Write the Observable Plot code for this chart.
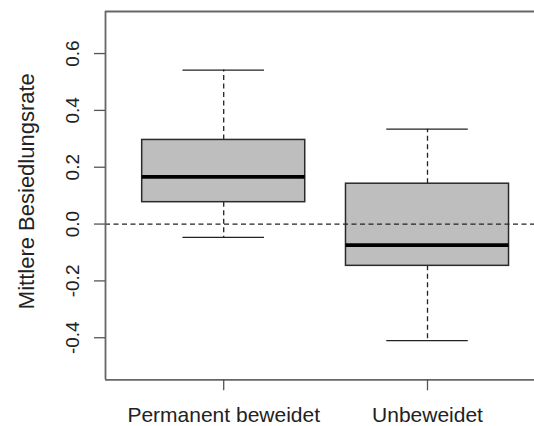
<!DOCTYPE html>
<html>
<head>
<meta charset="utf-8">
<script src="https://cdn.jsdelivr.net/npm/d3@7"></script>
<script src="https://cdn.jsdelivr.net/npm/@observablehq/plot@0.6"></script>
<style>
  html, body { margin: 0; padding: 0; background: #fff; overflow: hidden; }
  #chart svg { display: block; }
</style>
</head>
<body>
<div id="chart"></div>
<script>
const categories = ["Permanent beweidet", "Unbeweidet"];
const whiskerLow  = [-0.047, -0.410];
const q1          = [0.077, -0.147];
const median      = [0.166, -0.074];
const q3          = [0.296, 0.142];
const whiskerHigh = [0.542, 0.334];
const yTicks = [-0.4, -0.2, 0.0, 0.2, 0.4, 0.6];
const yLabel = "Mittlere Besiedlungsrate";

const boxes = categories.map((c, i) => ({
  pos: i + 1, cat: c,
  lo: whiskerLow[i], q1: q1[i], med: median[i], q3: q3[i], hi: whiskerHigh[i]
}));

const halfBox = 0.4, halfCap = 0.2;
const xDomain = [0.42, 2.525];
const yDomain = [-0.548, 0.748];
const dash = "5,3.5";
const font = "'Liberation Sans', Arial, Helvetica, sans-serif";

const chart = Plot.plot({
  width: 534,
  height: 426,
  marginLeft: 105,
  marginRight: 0,
  marginTop: 11,
  marginBottom: 46.7,
  style: { fontFamily: font, color: "#222", background: "#fff" },
  x: { type: "linear", domain: xDomain },
  y: { type: "linear", domain: yDomain },
  marks: [
    // whiskers
    Plot.ruleX(boxes, { x: "pos", y1: "q3", y2: "hi", stroke: "#222", strokeWidth: 1.3, strokeDasharray: dash }),
    Plot.ruleX(boxes, { x: "pos", y1: "q1", y2: "lo", stroke: "#222", strokeWidth: 1.3, strokeDasharray: dash }),
    // caps
    Plot.ruleY(boxes, { y: "hi", x1: d => d.pos - halfCap, x2: d => d.pos + halfCap, stroke: "#222", strokeWidth: 1.3 }),
    Plot.ruleY(boxes, { y: "lo", x1: d => d.pos - halfCap, x2: d => d.pos + halfCap, stroke: "#222", strokeWidth: 1.3 }),
    // boxes
    Plot.rect(boxes, { x1: d => d.pos - halfBox, x2: d => d.pos + halfBox, y1: "q1", y2: "q3",
      fill: "#bebebe", stroke: "#2a2a2a", strokeWidth: 1.5 }),
    // medians
    Plot.ruleY(boxes, { y: "med", x1: d => d.pos - halfBox, x2: d => d.pos + halfBox, stroke: "#000", strokeWidth: 3.6 }),
    // zero reference line
    Plot.ruleY([0], { stroke: "#222", strokeWidth: 1.3, strokeDasharray: dash }),
    // frame (left, top, bottom)
    Plot.ruleX([xDomain[0]], { stroke: "#666", strokeWidth: 1.8 }),
    Plot.ruleY([yDomain[0]], { stroke: "#666", strokeWidth: 1.8 }),
    Plot.ruleY([yDomain[1]], { stroke: "#666", strokeWidth: 1.8 }),
    // axes
    Plot.axisY({
      ticks: yTicks, tickFormat: d => d.toFixed(1), tickSize: 11, tickRotate: -90,
      tickPadding: 15.5, fontSize: 19, label: null, stroke: "#555", strokeWidth: 1.3, fill: "#222"
    }),
    Plot.axisX({
      ticks: [1, 2], tickFormat: d => categories[d - 1], tickSize: 11, tickPadding: 16,
      fontSize: 21, label: null, stroke: "#555", strokeWidth: 1.3, fill: "#222"
    }),
    // y-axis title
    Plot.text([yLabel], { frameAnchor: "left", rotate: -90, dx: -72, dy: -4.5,
      textAnchor: "middle", lineAnchor: "bottom", fontSize: 22, fill: "#222" })
  ]
});
document.getElementById("chart").appendChild(chart);
</script>
</body>
</html>
